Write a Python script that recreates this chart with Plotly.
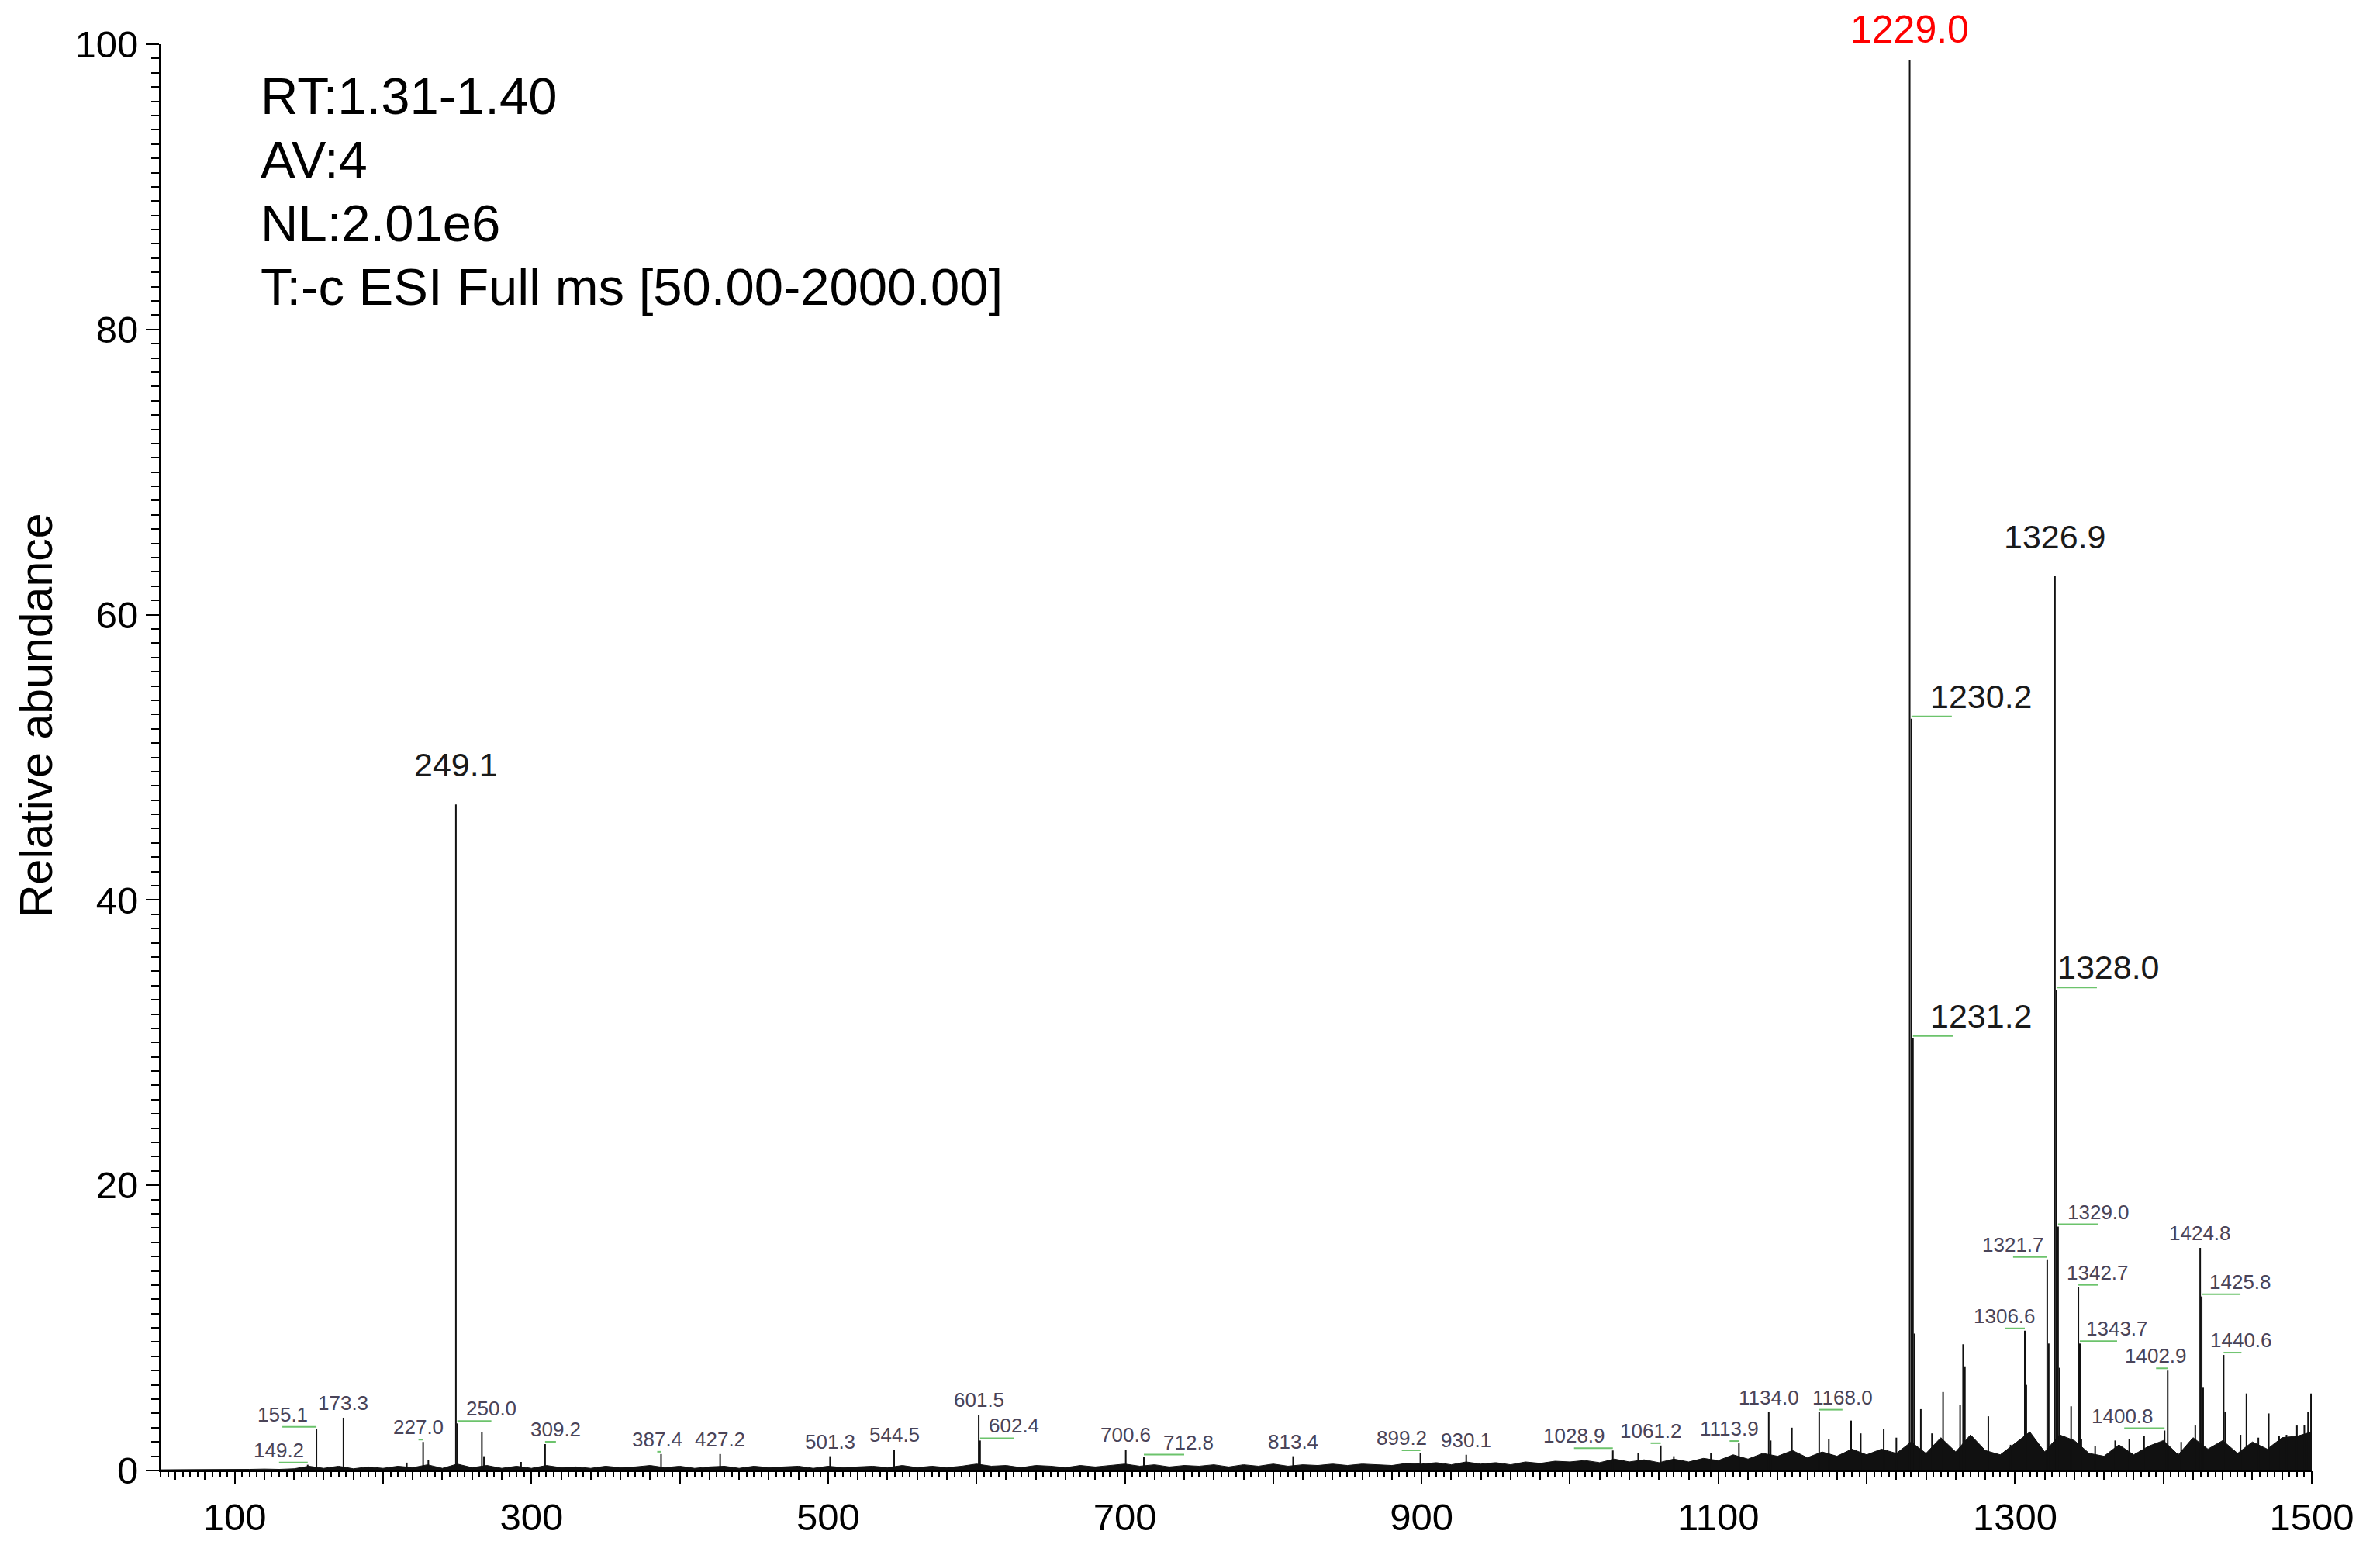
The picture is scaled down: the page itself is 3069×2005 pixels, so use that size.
import plotly.graph_objects as go

# labelled peaks (m/z, relative abundance %)
peak_mz = [149.2, 155.1, 173.3, 227.0, 249.1, 250.0, 309.2, 387.4, 427.2, 501.3,
           544.5, 601.5, 602.4, 700.6, 712.8, 813.4, 899.2, 930.1, 1028.9, 1061.2,
           1113.9, 1134.0, 1168.0, 1229.0, 1230.2, 1231.2, 1306.6, 1321.7, 1326.9, 1328.0,
           1329.0, 1342.7, 1343.7, 1400.8, 1402.9, 1424.8, 1425.8, 1440.6]
peak_int = [0.4, 2.9, 3.7, 2.0, 46.7, 3.3, 1.85, 1.15, 1.15, 1.0,
            1.45, 3.9, 2.1, 1.45, 0.95, 1.0, 1.25, 1.1, 1.4, 1.75,
            1.9, 4.1, 4.1, 98.9, 52.7, 30.3, 9.8, 14.8, 62.7, 33.7,
            17.1, 12.85, 8.9, 2.8, 7.0, 15.6, 12.2, 8.1]

# other visible sticks without labels
other_mz = [216.0, 230.5, 266.6, 268.0, 293.0, 1046.0, 1070.0, 1095.0, 1135.3, 1149.6,
            1174.5, 1189.5, 1196.0, 1211.5, 1220.0, 1232.2, 1236.5, 1244.0, 1251.5, 1263.0,
            1265.0, 1266.2, 1282.0, 1297.0, 1307.6, 1322.7, 1330.0, 1337.8, 1344.7, 1354.0,
            1367.5, 1377.0, 1387.0, 1412.0, 1421.5, 1426.8, 1441.6, 1452.0, 1456.0, 1464.0,
            1471.0, 1478.0, 1483.0, 1490.0, 1495.0, 1497.5, 1499.5]
other_int = [0.55, 0.75, 2.7, 1.0, 0.6, 1.2, 1.0, 1.25, 2.1, 3.0,
             2.2, 3.5, 2.6, 2.9, 2.3, 9.6, 4.3, 2.6, 5.5, 4.6,
             8.85, 7.3, 3.8, 1.8, 6.0, 8.9, 7.2, 4.5, 2.2, 1.7,
             2.1, 2.2, 2.4, 2.0, 3.15, 5.8, 4.1, 2.5, 5.4, 2.3,
             4.0, 2.4, 2.5, 3.15, 3.2, 4.1, 5.4]

# noise "grass" envelope, read every 10 m/z from 50 to 1500
grass_mz = list(range(50, 1501, 10))
grass_int = [0.05, 0.05, 0.08, 0.05, 0.08, 0.06, 0.08, 0.1, 0.08, 0.12,
             0.3, 0.15, 0.3, 0.12, 0.25, 0.15, 0.3, 0.2, 0.4, 0.15,
             0.45, 0.2, 0.35, 0.15, 0.3, 0.15, 0.35, 0.2, 0.25, 0.15,
             0.3, 0.2, 0.25, 0.35, 0.2, 0.3, 0.15, 0.25, 0.3, 0.15,
             0.3, 0.2, 0.25, 0.3, 0.15, 0.3, 0.2, 0.25, 0.3, 0.2,
             0.35, 0.2, 0.3, 0.2, 0.3, 0.45, 0.3, 0.35, 0.2, 0.35,
             0.3, 0.2, 0.35, 0.25, 0.35, 0.45, 0.3, 0.4, 0.25, 0.35,
             0.3, 0.4, 0.25, 0.4, 0.3, 0.45, 0.3, 0.4, 0.35, 0.45,
             0.35, 0.45, 0.4, 0.35, 0.5, 0.45, 0.55, 0.4, 0.6, 0.45,
             0.55, 0.4, 0.6, 0.5, 0.65, 0.6, 0.7, 0.55, 0.8, 0.6,
             0.75, 0.55, 0.8, 0.6, 0.85, 0.7, 1.1, 0.8, 1.2, 1.0,
             1.4, 0.9, 1.3, 1.0, 1.5, 1.1, 1.5, 1.2, 2.0, 1.2,
             2.3, 1.3, 2.5, 1.4, 1.1, 1.9, 2.7, 1.3, 2.5, 2.1,
             1.2, 1.0, 1.8, 1.1, 1.7, 2.1, 1.1, 2.3, 1.5, 2.1,
             1.2, 2.0, 1.5, 2.3, 2.4, 2.7]

info_lines = ["RT:1.31-1.40", "AV:4", "NL:2.01e6", "T:-c ESI Full ms [50.00-2000.00]"]
x_ticks = [100, 200, 300, 400, 500, 600, 700, 800, 900, 1000, 1100, 1200, 1300, 1400, 1500]
x_text = ["100", "", "300", "", "500", "", "700", "", "900", "", "1100", "", "1300", "", "1500"]

# page / plot geometry (px)
W, H = 3069, 2005
ML, MR, MT, MB = 207, 88, 57, 109
XR = [50, 1500]
PPX = (W - ML - MR) / (XR[1] - XR[0])
PPY = (H - MT - MB) / 100.0

FONT = "Liberation Sans, Arial, sans-serif"
BIG = {"249.1", "1230.2", "1231.2", "1326.9", "1328.0"}
# horizontal offset of the label from its peak, px
LABEL_SHIFT = {"149.2": -37, "155.1": -44, "227.0": -6, "250.0": 44, "309.2": 14,
               "387.4": -5, "602.4": 44, "712.8": 57, "899.2": -24, "1028.9": -50,
               "1061.2": -13, "1113.9": -12, "1168.0": 30, "1230.2": 90, "1231.2": 88,
               "1306.6": -26, "1321.7": -44, "1328.0": 67, "1329.0": 52, "1342.7": 25,
               "1343.7": 48, "1400.8": -54, "1402.9": -15, "1425.8": 50, "1440.6": 23}

fig = go.Figure()

# grass
fig.add_trace(go.Scatter(x=grass_mz, y=grass_int, mode="lines", fill="tozeroy",
                         fillcolor="#111111", line=dict(color="#111111", width=1),
                         hoverinfo="skip", showlegend=False))

# sticks
sx, sy = [], []
for m, v in zip(other_mz + peak_mz, other_int + peak_int):
    sx += [m, m, None]
    sy += [0, v, None]
fig.add_trace(go.Scatter(x=sx, y=sy, mode="lines", line=dict(color="#111111", width=2),
                         hoverinfo="skip", showlegend=False))

# green leaders + labels
base = max(peak_int)
gx, gy = [], []
for m, v in zip(peak_mz, peak_int):
    txt = f"{m:.1f}"
    sh = LABEL_SHIFT.get(txt, 0)
    if sh:
        g = (1 if sh > 0 else -1) * min(abs(sh), 52)
        gx += [m, m + g / PPX, None]
        gy += [v + 3 / PPY, v + 3 / PPY, None]
    if v == base:
        size, color, ys = 50, "#ff0000", 9
    elif txt in BIG:
        size, color, ys = 43, "#1a1a1a", (25 if sh == 0 else 3)
    else:
        size, color, ys = 26, "#4a4458", 2
    fig.add_annotation(x=m, y=v, text=txt, showarrow=False, xanchor="center",
                       yanchor="bottom", xshift=sh, yshift=ys,
                       font=dict(family=FONT, size=size, color=color))
fig.add_trace(go.Scatter(x=gx, y=gy, mode="lines", line=dict(color="#6cc36c", width=2),
                         hoverinfo="skip", showlegend=False))

# medium ticks every 20 on an overlaid axis
fig.add_trace(go.Scatter(x=XR, y=[None, None], xaxis="x2", mode="lines",
                         hoverinfo="skip", showlegend=False))

# info block
for i, line in enumerate(info_lines):
    yb = 163 + 82 * i
    fig.add_annotation(xref="paper", yref="paper", x=(334 - ML) / (W - ML - MR),
                       y=(H - MB - yb) / (H - MT - MB), text=line, showarrow=False,
                       xanchor="left", yanchor="bottom",
                       font=dict(family=FONT, size=67, color="#000000"))

# y title
fig.add_annotation(xref="paper", yref="paper", x=(47 - ML) / (W - ML - MR),
                   y=(H - MB - 922) / (H - MT - MB), text="Relative abundance",
                   textangle=-90, showarrow=False, xanchor="center", yanchor="middle",
                   font=dict(family=FONT, size=59, color="#000000"))

fig.update_layout(
    width=W, height=H,
    margin=dict(l=ML, r=MR, t=MT, b=MB),
    paper_bgcolor="white", plot_bgcolor="white",
    font=dict(family=FONT, color="#000000"),
    xaxis=dict(range=XR, tickmode="array", tickvals=x_ticks, ticktext=x_text,
               ticks="outside", ticklen=16, tickwidth=2, tickcolor="#000000",
               showline=True, linewidth=2, linecolor="#000000",
               showgrid=False, zeroline=False, tickfont=dict(size=49),
               minor=dict(tickmode="linear", tick0=0, dtick=5, ticks="outside",
                          ticklen=6, tickwidth=1.5, tickcolor="#000000", showgrid=False)),
    xaxis2=dict(range=XR, overlaying="x", matches="x", anchor="y", side="bottom",
                tickmode="linear", tick0=0, dtick=20, ticks="outside", ticklen=11,
                tickwidth=1.5, tickcolor="#000000", showticklabels=False,
                showline=False, showgrid=False, zeroline=False),
    yaxis=dict(range=[0, 100], tickmode="linear", tick0=0, dtick=20,
               ticks="outside", ticklen=17, tickwidth=2, tickcolor="#000000",
               showline=True, linewidth=2, linecolor="#000000",
               showgrid=False, zeroline=False, tickfont=dict(size=49),
               minor=dict(dtick=1, ticks="outside", ticklen=10, tickwidth=1.5,
                          tickcolor="#000000", showgrid=False)),
)

fig.write_html("out.html", config={"displayModeBar": False},
               post_script="document.body.style.margin='0';")
